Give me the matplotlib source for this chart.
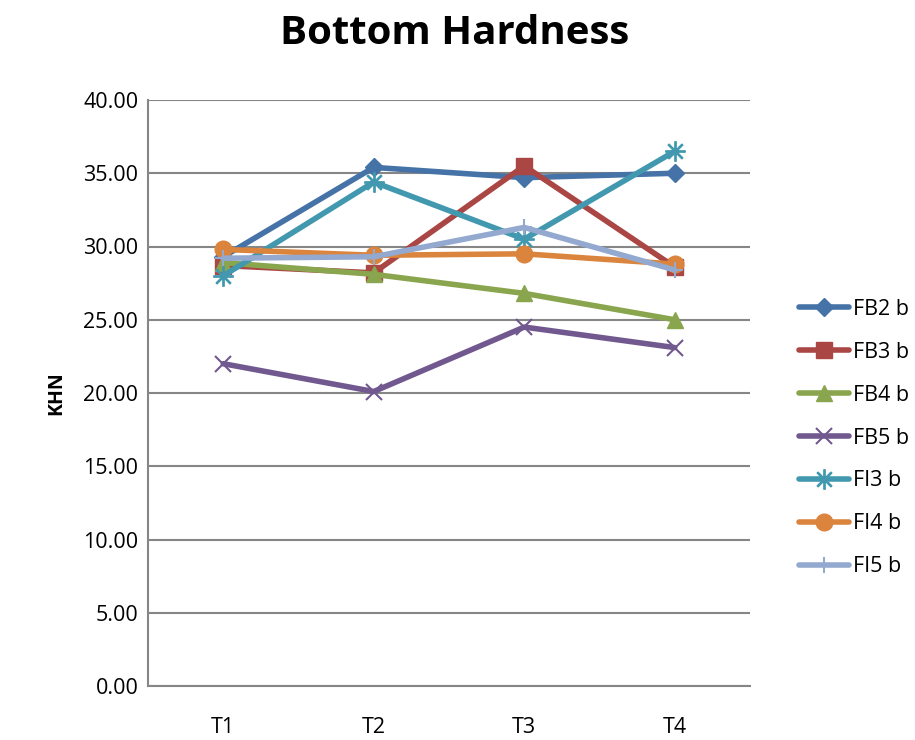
import matplotlib.pyplot as plt

plt.rcParams['font.family'] = ['Open Sans', 'DejaVu Sans']

times = ['T1', 'T2', 'T3', 'T4']
fb2 = [29.3, 35.4, 34.7, 35.0]
fb3 = [28.7, 28.2, 35.5, 28.6]
fb4 = [28.9, 28.1, 26.8, 25.0]
fb5 = [22.0, 20.1, 24.5, 23.1]
fi3 = [28.0, 34.4, 30.5, 36.5]
fi4 = [29.8, 29.4, 29.5, 28.8]
fi5 = [29.2, 29.3, 31.3, 28.4]

series = [
    ('FB2 b', fb2, '#4572A7', 'D', 9),
    ('FB3 b', fb3, '#AA4643', 's', 12),
    ('FB4 b', fb4, '#89A54E', '^', 12),
    ('FB5 b', fb5, '#71588F', 'x', 11),
    ('FI3 b', fi3, '#4198AF', '$\u2733$', 14),
    ('FI4 b', fi4, '#DB843D', 'o', 12),
    ('FI5 b', fi5, '#93A9CF', '+', 12),
]

fig = plt.figure(figsize=(9.15, 7.4), dpi=100)
ax = fig.add_axes([148/915, 1 - 686/740, (750-148)/915, (686-100)/740])

x = range(len(times))
for name, vals, col, mk, ms in series:
    ax.plot(x, vals, color=col, lw=4, marker=mk, markersize=ms,
            markeredgewidth=1.5 if mk in ('x', '+') else 1,
            markeredgecolor=col, markerfacecolor=col, label=name,
            solid_capstyle='round')

ax.set_xlim(-0.5, 3.5)
ax.set_ylim(0, 40)
ax.set_yticks(range(0, 41, 5))
ax.set_yticklabels(['%.2f' % v for v in range(0, 41, 5)], fontsize=15.5)
ax.set_xticks(list(x))
ax.set_xticklabels(times, fontsize=15.5)
ax.tick_params(length=0, pad=7)
ax.tick_params(axis='x', pad=22)
ax.grid(axis='y', color='#868686', lw=1.5)
ax.set_axisbelow(True)
for s in ['top', 'right']:
    ax.spines[s].set_visible(False)
for s in ['left', 'bottom']:
    ax.spines[s].set_color('#868686')
    ax.spines[s].set_linewidth(1.5)

ax.set_ylabel('KHN', fontsize=14, fontweight='bold', labelpad=12)
fig.text(455/915, 1 - 33/740, 'Bottom Hardness', ha='center', va='center',
         fontsize=29, fontweight='bold')

fig.legend(loc='center left', bbox_to_anchor=(780/915, 1 - 438/740),
           frameon=False, fontsize=15.5, handlelength=2.3, labelspacing=1.02,
           handletextpad=0.2)

fig.savefig('out.png', dpi=100)
